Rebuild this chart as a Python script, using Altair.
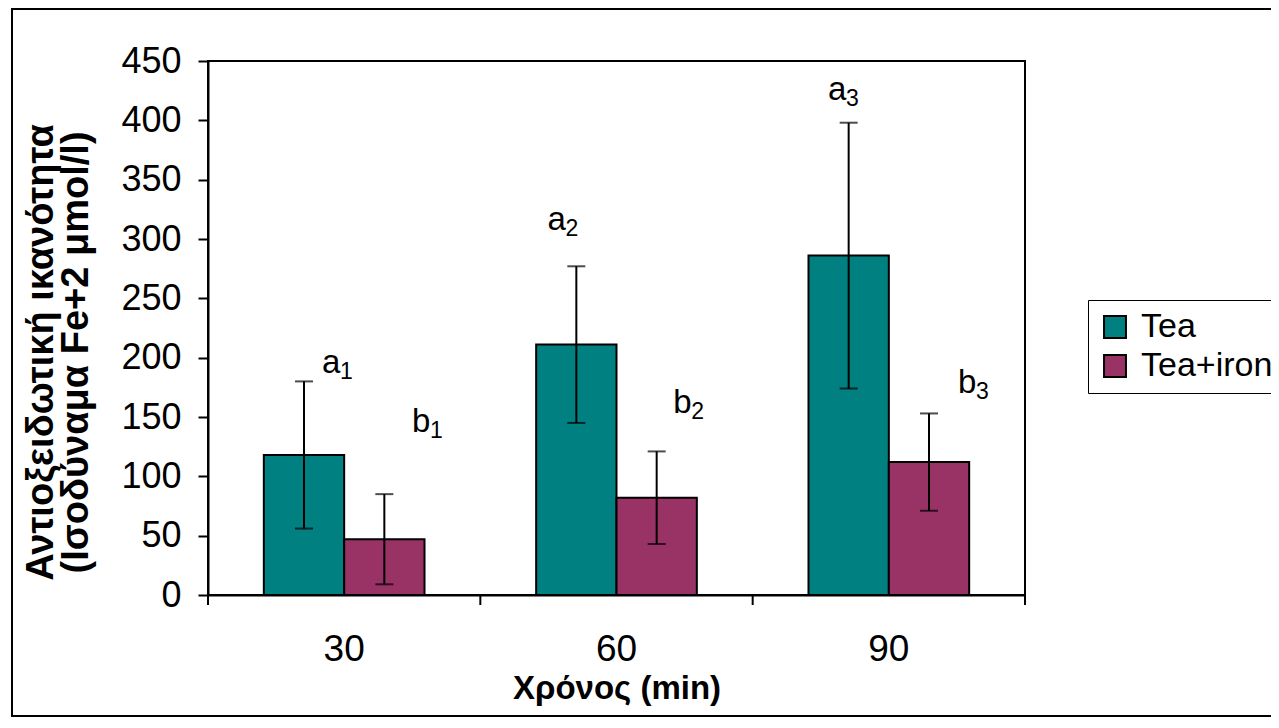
import altair as alt
import pandas as pd

# ---- data ----
times = ["30", "60", "90"]
series = ["Tea", "Tea+iron"]
tea_mean = [118, 211, 286]
tea_err = [62, 66, 112]
iron_mean = [47, 82, 112]
iron_err = [38, 39, 41]

letters = ["a", "b", "a", "b", "a", "b"]
subscripts = ["1", "1", "2", "2", "3", "3"]
label_pos = [0.419, 0.749, 1.247, 1.708, 2.277, 2.754]   # in category-step units
label_val = [187, 137, 308, 153, 417, 170]               # in axis units

colors = ["#008080", "#993366"]

rows = []
for i, t in enumerate(times):
    rows.append({"time": t, "series": series[0], "mean": tea_mean[i],
                 "lo": tea_mean[i] - tea_err[i], "hi": tea_mean[i] + tea_err[i]})
    rows.append({"time": t, "series": series[1], "mean": iron_mean[i],
                 "lo": iron_mean[i] - iron_err[i], "hi": iron_mean[i] + iron_err[i]})
df = pd.DataFrame(rows)
lab = pd.DataFrame({"letter": letters, "sub": subscripts, "lx": label_pos, "lv": label_val})
tdf = pd.DataFrame({"time": times})

W, H = 817, 534
FONT = "Liberation Sans"

xband = alt.Scale(paddingInner=0.41, paddingOuter=0.205)
yscale = alt.Scale(domain=[0, 450], nice=False)
offscale = alt.Scale(paddingInner=0, paddingOuter=0)

yaxis = alt.Axis(values=list(range(0, 451, 50)),
                 title=["Αντιοξειδωτική ικανότητα", "(Ισοδύναμα Fe+2 μmol/l)"],
                 grid=False, tickSize=10, tickWidth=2, tickColor="black",
                 domainColor="black", domainWidth=2,
                 labelFontSize=36, labelPadding=17, labelColor="black",
                 titleFontSize=38, titleFontWeight="bold", titleColor="black",
                 titleAngle=270, titleAlign="center", titleBaseline="top",
                 titleX=-186, titleY=291, titleLineHeight=35)

base = alt.Chart(df)

bars = base.mark_bar(stroke="black", strokeWidth=2).encode(
    x=alt.X("time:N", scale=xband, sort=times,
            axis=alt.Axis(title="Χρόνος (min)", labelAngle=0, ticks=False,
                          labelFontSize=37, labelPadding=36, labelColor="black",
                          titleFontSize=33, titleFontWeight="bold", titlePadding=5,
                          titleColor="black", domainColor="black", domainWidth=2)),
    xOffset=alt.XOffset("series:N", sort=series, scale=offscale),
    y=alt.Y("mean:Q", scale=yscale, axis=yaxis),
    color=alt.Color("series:N", sort=series, scale=alt.Scale(domain=series, range=colors),
                    legend=alt.Legend(title=None, orient="none", legendX=880, legendY=239,
                                      strokeColor="black", fillColor="white", padding=10,
                                      symbolType="square", symbolSize=480,
                                      symbolStrokeColor="black", symbolStrokeWidth=2,
                                      labelFontSize=34, labelColor="black", rowPadding=5,
                                      labelOffset=9)),
)

err = base.mark_rule(color="black", strokeWidth=2).encode(
    x=alt.X("time:N", scale=xband, sort=times),
    xOffset=alt.XOffset("series:N", sort=series, scale=offscale),
    y=alt.Y("lo:Q", scale=yscale, axis=yaxis),
    y2="hi:Q",
)
cap_lo = base.mark_tick(color="black", thickness=2, size=18).encode(
    x=alt.X("time:N", scale=xband, sort=times),
    xOffset=alt.XOffset("series:N", sort=series, scale=offscale),
    y=alt.Y("lo:Q", scale=yscale, axis=yaxis),
)
cap_hi = base.mark_tick(color="black", thickness=2, size=18).encode(
    x=alt.X("time:N", scale=xband, sort=times),
    xOffset=alt.XOffset("series:N", sort=series, scale=offscale),
    y=alt.Y("hi:Q", scale=yscale, axis=yaxis),
)

inner = alt.layer(bars, err, cap_lo, cap_hi)

ticks = alt.Chart(tdf).mark_rule(color="black", strokeWidth=2).encode(
    x=alt.X("time:N", sort=times, scale=alt.Scale(paddingInner=0, paddingOuter=0),
            bandPosition=0, axis=None),
    y=alt.value(H), y2=alt.value(H + 10),
)
last_tick = alt.Chart(tdf.head(1)).mark_rule(color="black", strokeWidth=2).encode(
    x=alt.value(W), y=alt.value(H), y2=alt.value(H + 10),
)

lscale = alt.Scale(domain=[0, 3], nice=False, zero=False)
letter_txt = alt.Chart(lab).mark_text(font=FONT, fontSize=33, align="left",
                                      baseline="alphabetic", color="black").encode(
    x=alt.X("lx:Q", scale=lscale, axis=None),
    y=alt.Y("lv:Q", scale=yscale, axis=yaxis),
    text="letter:N",
)
sub_txt = alt.Chart(lab).mark_text(font=FONT, fontSize=23, align="left",
                                   baseline="alphabetic", color="black", dx=18, dy=6).encode(
    x=alt.X("lx:Q", scale=lscale, axis=None),
    y=alt.Y("lv:Q", scale=yscale, axis=yaxis),
    text="sub:N",
)

frame = alt.Chart(tdf.head(1)).mark_rect(fillOpacity=0, stroke="black", strokeWidth=2).encode(
    x=alt.value(-196), x2=alt.value(1120), y=alt.value(-52), y2=alt.value(655),
)

chart = alt.layer(frame, inner, ticks, last_tick, letter_txt, sub_txt).resolve_scale(
    x="independent"
).properties(
    width=W, height=H,
    autosize=alt.AutoSizeParams(type="none"),
    padding={"left": 200, "top": 53, "right": 246, "bottom": 124},
).configure(
    font=FONT, background="white"
).configure_view(
    stroke="black", strokeWidth=2
)

chart.save("out.html", embed_options={"renderer": "svg", "actions": False})
